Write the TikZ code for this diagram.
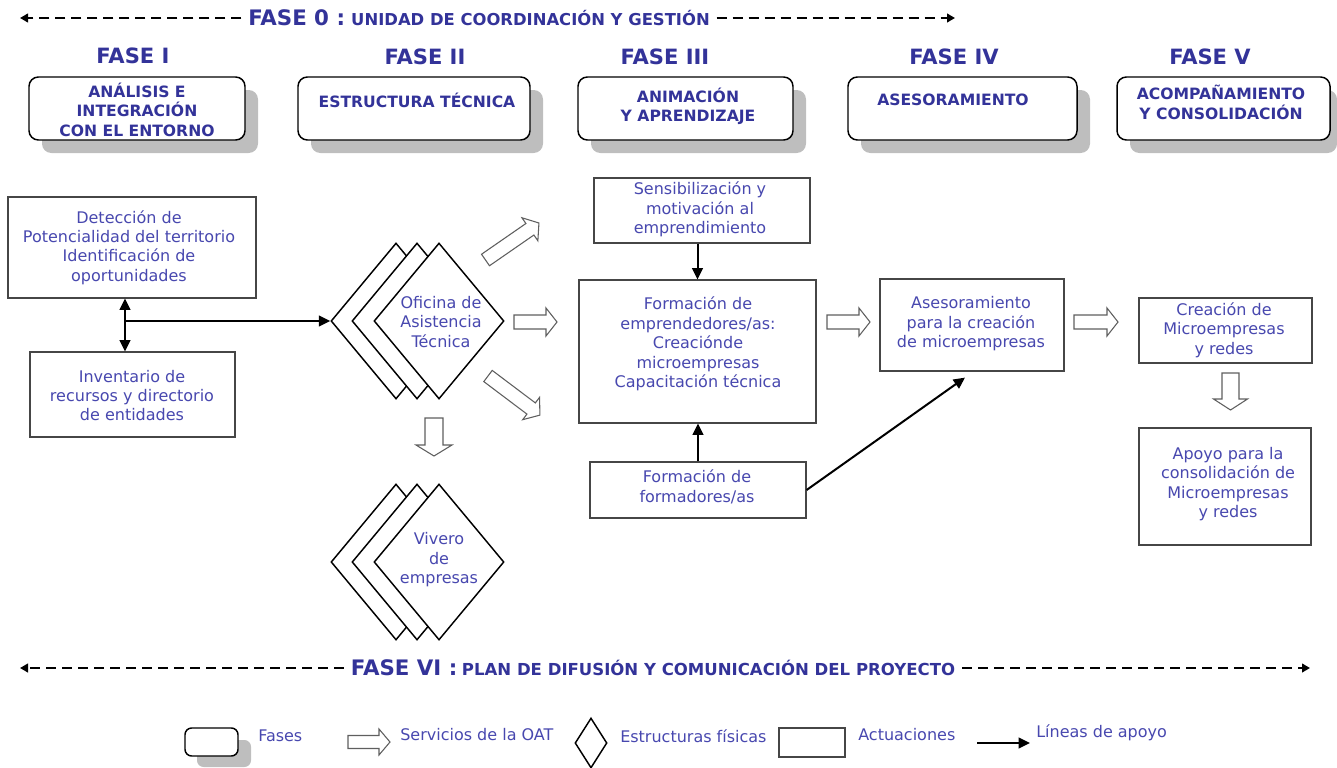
\documentclass[tikz,border=0pt]{standalone}
\usepackage{fontspec}
\setmainfont{DejaVu Sans}
\usetikzlibrary{arrows.meta,shapes.geometric,calc,fit}

\definecolor{headblue}{RGB}{51,51,153}
\definecolor{textblue}{RGB}{72,72,175}
\definecolor{shadowgray}{RGB}{190,190,190}
\definecolor{boxgray}{RGB}{70,70,70}
\definecolor{hollowgray}{RGB}{95,95,95}

% hollow block arrow: tail centre (x,y), angle, length, shaft half-width
\newcommand{\blockarrow}[5]{%
  \begin{scope}[shift={(#1,#2)},rotate=#3]
    \draw[hollow] (0,-#5) -- ({#4-11},-#5) -- ({#4-11},{-2*#5}) -- (#4,0)
      -- ({#4-11},{2*#5}) -- ({#4-11},#5) -- (0,#5) -- cycle;
  \end{scope}}

\tikzset{
  phasebox/.style={draw=black, line width=1.1pt, rounded corners=7pt, fill=white, inner sep=0pt},
  phaseshadow/.style={fill=shadowgray, draw=none, rounded corners=7pt, inner sep=0pt},
  actbox/.style={draw=boxgray, line width=0.9pt, fill=white, inner sep=0pt},
  oatdiamond/.style={diamond, draw=black, line width=1.1pt, fill=white, inner sep=0pt,
    minimum width=97.5pt, minimum height=117pt},
  body/.style={text=textblue, font=\fontsize{12}{14.6}\selectfont, align=center, inner sep=0pt},
  phasetext/.style={text=headblue, font=\bfseries\fontsize{11.7}{14.6}\selectfont, align=center, inner sep=0pt},
  phasehead/.style={text=headblue, font=\bfseries\fontsize{15.8}{18}\selectfont, inner sep=0pt},
  bandtitle/.style={text=headblue, font=\bfseries, inner sep=5pt},
  support/.style={line width=1.5pt, -{Triangle[length=8.5pt,width=8pt]}},
  bandline/.style={line width=1.9pt, dash pattern=on 7.5pt off 4.5pt, -{Triangle[length=6pt,width=6.5pt]}},
  hollow/.style={draw=hollowgray, line width=0.8pt, fill=white, line join=miter},
}

\begin{document}
\begin{tikzpicture}[x=0.75pt,y=-0.75pt]
\useasboundingbox (0,0) rectangle (1337,767);

% ---- Fase 0 band ----
\node[bandtitle] (f0) at (479,18)
  {{\fontsize{16}{18}\selectfont FASE 0 :} {\fontsize{12.3}{14}\selectfont UNIDAD DE COORDINACIÓN Y GESTIÓN}};
\coordinate (f0L) at (20,18);
\coordinate (f0R) at (955,18);
\draw[bandline] (f0.west) -- (f0L);
\draw[bandline] (f0.east) -- (f0R);

% ---- phase headings ----
\node[phasehead] (h1) at (133,56) {FASE I};
\node[phasehead] (h2) at (425,57) {FASE II};
\node[phasehead] (h3) at (665,57) {FASE III};
\node[phasehead] (h4) at (954,57) {FASE IV};
\node[phasehead] (h5) at (1210,57) {FASE V};

% ---- phase boxes with shadows ----
\node[phaseshadow, fit={(42,90)(258,153)}] (s1) {};
\node[phasebox, fit={(29,77)(245,140)}] (p1) {};
\node[phasetext] (t1) at (137,109.5) {ANÁLISIS E\\INTEGRACIÓN\\CON EL ENTORNO};

\node[phaseshadow, fit={(311,90)(543,153)}] (s2) {};
\node[phasebox, fit={(298,77)(530,140)}] (p2) {};
\node[phasetext] (t2) at (417,100) {ESTRUCTURA TÉCNICA};

\node[phaseshadow, fit={(591,90)(806,153)}] (s3) {};
\node[phasebox, fit={(578,77)(793,140)}] (p3) {};
\node[phasetext] (t3) at (688,106.5) {ANIMACIÓN\\Y APRENDIZAJE};

\node[phaseshadow, fit={(861,90)(1090,153)}] (s4) {};
\node[phasebox, fit={(848,77)(1077,140)}] (p4) {};
\node[phasetext] (t4) at (953,100) {ASESORAMIENTO};

\node[phaseshadow, fit={(1130,90)(1337,153)}] (s5) {};
\node[phasebox, fit={(1117,77)(1330,140)}] (p5) {};
\node[phasetext] (t5) at (1221,102.5) {ACOMPAÑAMIENTO\\Y CONSOLIDACIÓN};

% ---- actions ----
\node[actbox, fit={(8,197)(256,298)}] (a1) {};
\node[body] (a1t) at (129,247.5) {Detección de\\Potencialidad del territorio\\Identificación de\\oportunidades};

\node[actbox, fit={(30,352)(235,437)}] (a2) {};
\node[body] (a2t) at (132,395.5) {Inventario de\\recursos y directorio\\de entidades};

\node[actbox, fit={(594,178)(810,243)}] (sens) {};
\node[body] (senst) at (700,209.5) {Sensibilización y\\motivación al\\emprendimiento};

\node[actbox, fit={(579,280)(816,423)}] (form1) {};
\node[body] (form1t) at (698,344) {Formación de\\emprendedores/as:\\Creaciónde\\microempresas\\Capacitación técnica};

\node[actbox, fit={(590,462)(806,518)}] (form2) {};
\node[body] (form2t) at (697,487) {Formación de\\formadores/as};

\node[actbox, fit={(880,279)(1064,371)}] (ases) {};
\node[body] (asest) at (971,324) {Asesoramiento\\para la creación\\de microempresas};

\node[actbox, fit={(1139,298)(1312,363)}] (cre) {};
\node[body] (cret) at (1224,330) {Creación de\\Microempresas\\y redes};

\node[actbox, fit={(1139,428)(1311,545)}] (apoyo) {};
\node[body] (apoyot) at (1228,484) {Apoyo para la\\consolidación de\\Microempresas\\y redes};

% ---- physical structures ----
\node[oatdiamond] (oatA) at (396,321) {};
\node[oatdiamond] (oatB) at (417,321) {};
\node[oatdiamond] (oatC) at (439,321) {};
\node[body] (oatt) at (441,322) {Oficina de\\Asistencia\\Técnica};

\node[oatdiamond] (vivA) at (396,562) {};
\node[oatdiamond] (vivB) at (417,562) {};
\node[oatdiamond] (vivC) at (439,562) {};
\node[body] (vivt) at (439,560) {Vivero\\de\\empresas};

% ---- support lines ----
\coordinate (j) at (125,321);
\draw[support, {Triangle[length=8.5pt,width=8pt]}-{Triangle[length=8.5pt,width=8pt]}]
  (a1.south -| j) -- (a2.north -| j);
\draw[support] (j) -- (oatA.west);
\draw[support] (form1.north |- sens.south) -- (form1.north);
\draw[support] (form2.north) -- (form2.north |- form1.south);
\draw[support] (form2.east) -- ($(ases.south)+(-7,6)$);

% ---- OAT services ----
\blockarrow{485.5}{260}{34.7}{65}{7}
\blockarrow{514}{322}{0}{43}{7}
\blockarrow{488}{376}{-37}{65}{7}
\blockarrow{434}{418}{-90}{38}{9}
\blockarrow{827}{322}{0}{43}{7}
\blockarrow{1074}{322}{0}{44}{7}
\blockarrow{1230.5}{373}{-90}{37}{8.5}

% ---- Fase VI band ----
\node[bandtitle] (f6) at (653,668)
  {{\fontsize{16}{18}\selectfont FASE VI :} {\fontsize{12.4}{14}\selectfont PLAN DE DIFUSIÓN Y COMUNICACIÓN DEL PROYECTO}};
\coordinate (f6L) at (20,668);
\coordinate (f6R) at (1310,668);
\draw[bandline] (f6.west) -- (f6L);
\draw[bandline] (f6.east) -- (f6R);

% ---- legend ----
\node[phaseshadow, rounded corners=5pt, fit={(197,740)(251,767)}] (lgS) {};
\node[phasebox, rounded corners=5pt, fit={(185,728)(238,756)}] (lgP) {};
\node[body, anchor=west] (lgPt) at (258,736) {Fases};
\blockarrow{348}{742}{0}{42}{6.5}
\node[body, anchor=west] (lgAt) at (400,735) {Servicios de la OAT};
\node[diamond, draw=black, line width=1.1pt, inner sep=0pt, minimum width=24pt, minimum height=37.5pt] (lgD) at (591,743) {};
\node[body, anchor=west] (lgDt) at (620,736) {Estructuras físicas};
\node[actbox, fit={(779,728)(845,757)}] (lgR) {};
\node[body, anchor=west] (lgRt) at (858,735) {Actuaciones};
\coordinate (lgA) at (977,743);
\coordinate (lgB) at (1030,743);
\draw[support] (lgA) -- (lgB);
\node[body, anchor=west] (lgLt) at (1036,733) {Líneas de apoyo};

\end{tikzpicture}
\end{document}
